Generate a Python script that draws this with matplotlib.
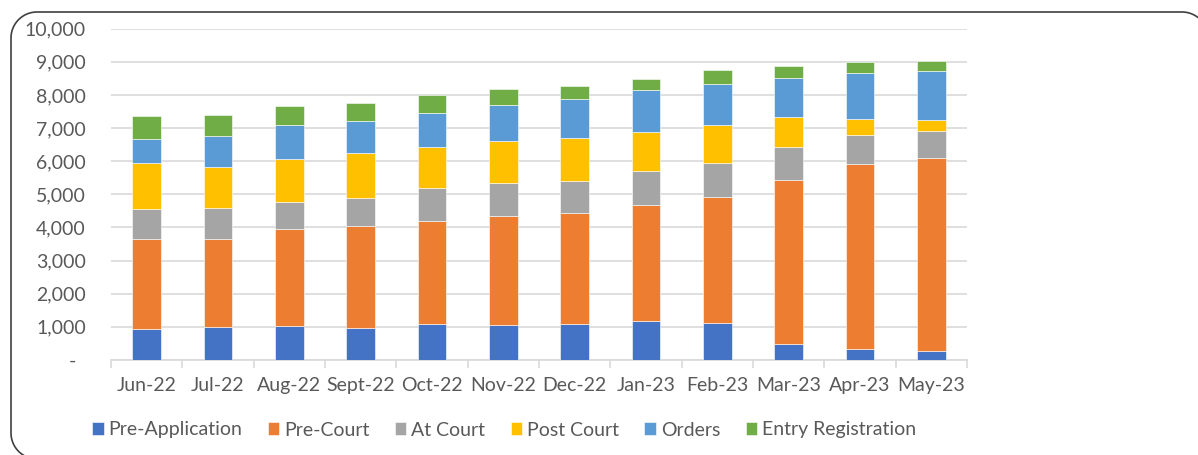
import matplotlib.pyplot as plt
import numpy as np
from matplotlib.lines import Line2D
from matplotlib.ticker import FuncFormatter

plt.rcParams["font.family"] = ["Lato", "DejaVu Sans"]

months = ["Jun-22", "Jul-22", "Aug-22", "Sept-22", "Oct-22", "Nov-22",
          "Dec-22", "Jan-23", "Feb-23", "Mar-23", "Apr-23", "May-23"]

pre_application = [925, 995, 1035, 965, 1085, 1065, 1075, 1165, 1105, 475, 340, 280]
pre_court = [2725, 2665, 2920, 3090, 3120, 3270, 3360, 3500, 3825, 4970, 5585, 5805]
at_court = [915, 935, 825, 845, 995, 1015, 965, 1025, 1005, 995, 855, 835]
post_court = [1380, 1225, 1295, 1340, 1230, 1260, 1290, 1205, 1145, 885, 495, 310]
orders = [735, 955, 1015, 985, 1035, 1075, 1185, 1240, 1250, 1175, 1380, 1480]
entry_registration = [695, 635, 575, 545, 545, 485, 405, 340, 410, 360, 340, 300]

series = [
    ("Pre-Application", pre_application, "#4472C4"),
    ("Pre-Court", pre_court, "#ED7D31"),
    ("At Court", at_court, "#A5A5A5"),
    ("Post Court", post_court, "#FFC000"),
    ("Orders", orders, "#5B9BD5"),
    ("Entry Registration", entry_registration, "#70AD47"),
]

W, H = 1198, 455
fig = plt.figure(figsize=(W / 100, H / 100), dpi=100)
ax = fig.add_axes([111 / W, 1 - 360 / H, (967 - 111) / W, (360 - 28.7) / H])

txt = "#595959"
grid = "#D9D9D9"
fs = 14

x = np.arange(len(months))
bottom = np.zeros(len(months))
for name, vals, col in series:
    ax.bar(x, vals, 0.4, bottom=bottom, color=col, label=name,
           edgecolor="white", linewidth=0.4, zorder=3)
    bottom += np.array(vals)

ax.set_xlim(-0.5, len(months) - 0.5)
ax.set_ylim(0, 10000)
ax.set_yticks(np.arange(0, 10001, 1000))
ax.yaxis.set_major_formatter(
    FuncFormatter(lambda v, p: "-  " if v == 0 else "{:,.0f}".format(v)))
ax.yaxis.grid(True, color=grid, linewidth=1.2, zorder=0)
ax.tick_params(axis="y", length=0, pad=18, labelsize=fs, labelcolor=txt)

ax.set_xticks(x)
ax.set_xticklabels(months)
ax.set_xticks(np.arange(-0.5, len(months)), minor=True)
ax.tick_params(axis="x", which="major", length=0, pad=12, labelsize=fs, labelcolor=txt)
ax.tick_params(axis="x", which="minor", length=6, width=1.2, color=grid)

for s in ["top", "right", "left"]:
    ax.spines[s].set_visible(False)
ax.spines["bottom"].set_color(grid)
ax.spines["bottom"].set_linewidth(1.2)

fig.legend(loc="center", bbox_to_anchor=(504 / W, 1 - 430 / H), ncol=6,
           frameon=False, fontsize=fs, labelcolor=txt, handlelength=0.6,
           handleheight=0.6, handletextpad=0.25, columnspacing=1.3)


# rounded chart border (pixel coords from top-left), runs off right/bottom edge
def arc(cx, cy, r, a0, a1):
    t = np.radians(np.linspace(a0, a1, 30))
    return cx + r * np.cos(t), cy - r * np.sin(t)


r = 26
left, top, right, bot = 11, 12, 1208, 459
parts = [arc(right - r, top + r, r, 0, 90),
         arc(left + r, top + r, r, 90, 180),
         arc(left + r, bot - r, r, 180, 270)]
bx = np.concatenate([p[0] for p in parts])
by = np.concatenate([p[1] for p in parts])
fig.add_artist(Line2D(bx / W, 1 - by / H, transform=fig.transFigure,
                      color="#404040", linewidth=1.2, clip_on=False))

fig.savefig("out.png", dpi=100)
